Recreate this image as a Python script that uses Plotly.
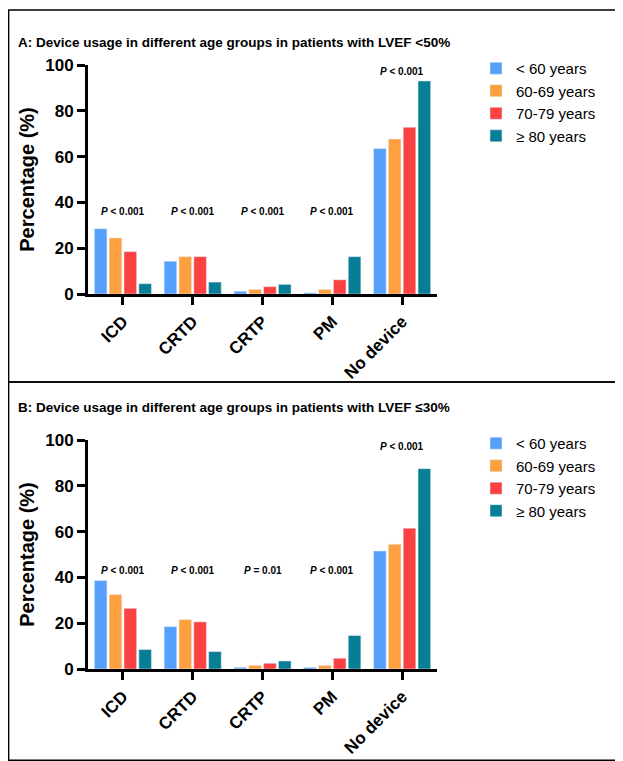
import plotly.graph_objects as go

devices = ["ICD", "CRTD", "CRTP", "PM", "No device"]
groups = ["< 60 years", "60-69 years", "70-79 years", "≥ 80 years"]
colors = ["#56A0FB", "#FFA040", "#FB4141", "#087D96"]

# panel A: LVEF <50%
vals_a = [
    [28.5, 14.3, 1.2, 0.5, 63.5],
    [24.5, 16.3, 2.0, 2.0, 67.7],
    [18.5, 16.3, 3.2, 6.2, 72.8],
    [4.5, 5.2, 4.2, 16.3, 93.0],
]
pvals_a = ["<i>P</i> < 0.001"] * 5

# panel B: LVEF <=30%
vals_b = [
    [38.6, 18.5, 0.7, 0.7, 51.5],
    [32.5, 21.6, 1.6, 1.6, 54.5],
    [26.5, 20.6, 2.5, 4.7, 61.5],
    [8.5, 7.6, 3.5, 14.6, 87.5],
]
pvals_b = ["<i>P</i> < 0.001", "<i>P</i> < 0.001", "<i>P</i> = 0.01", "<i>P</i> < 0.001", "<i>P</i> < 0.001"]
p_y_a = [36, 36, 36, 36, 97]
p_y_b = [43, 43, 43, 43, 97]

# the page puts the plot 8px in from the top-left corner
OFF = 8
W, H = 623 - OFF, 761 - OFF
def px(v):
    return (v - OFF) / W
def py(v):
    return 1 - (v - OFF) / H

fig = go.Figure()
for i, g in enumerate(groups):
    fig.add_trace(go.Bar(x=devices, y=vals_a[i], name=g, marker_color=colors[i],
                         xaxis="x", yaxis="y", legend="legend"))
    fig.add_trace(go.Bar(x=devices, y=vals_b[i], name=g, marker_color=colors[i],
                         xaxis="x2", yaxis="y2", legend="legend2"))

font = dict(family="Arial, Liberation Sans", color="black")
ax = dict(showline=True, linewidth=3, linecolor="black", ticks="outside", ticklen=8,
          tickwidth=3, tickcolor="black", showgrid=False, zeroline=False, automargin=False)
xax = dict(ax, tickangle=-45, tickvals=devices, ticktext=["<b>" + d + "</b>" for d in devices],
           tickfont=dict(size=17))
yax = dict(ax, range=[0, 100], dtick=20, tickprefix="<b>", ticksuffix="</b>",
           tickfont=dict(size=17),
           title=dict(text="<b>Percentage (%)</b>", font=dict(size=20), standoff=6))
xdom = [px(88), px(437)]
fig.update_layout(
    width=W, height=H, margin=dict(l=0, r=0, t=0, b=0),
    plot_bgcolor="white", paper_bgcolor="white", font=font,
    bargap=0.15, bargroupgap=0.15,
    xaxis=dict(xax, domain=xdom, anchor="y"),
    yaxis=dict(yax, domain=[py(294), py(65)], anchor="x"),
    xaxis2=dict(xax, domain=xdom, anchor="y2"),
    yaxis2=dict(yax, domain=[py(669), py(440)], anchor="x2"),
    legend=dict(x=px(476), y=py(52), xanchor="left", yanchor="top", font=dict(size=15),
                tracegroupgap=0, itemwidth=30),
    legend2=dict(x=px(476), y=py(427), xanchor="left", yanchor="top", font=dict(size=15),
                 tracegroupgap=0, itemwidth=30),
)

for d, t, yy in zip(devices, pvals_a, p_y_a):
    fig.add_annotation(x=d, y=yy, xref="x", yref="y", text="<b>" + t + "</b>",
                       showarrow=False, font=dict(size=10))
for d, t, yy in zip(devices, pvals_b, p_y_b):
    fig.add_annotation(x=d, y=yy, xref="x2", yref="y2", text="<b>" + t + "</b>",
                       showarrow=False, font=dict(size=10))

fig.add_annotation(x=px(16), y=py(33), xref="paper", yref="paper", xanchor="left",
                   text="<b>A: Device usage in different age groups in patients with LVEF <50%</b>",
                   showarrow=False, font=dict(size=13.5))
fig.add_annotation(x=px(16), y=py(407), xref="paper", yref="paper", xanchor="left",
                   text="<b>B: Device usage in different age groups in patients with LVEF ≤30%</b>",
                   showarrow=False, font=dict(size=13.5))

# panel borders
fig.add_shape(type="rect", xref="paper", yref="paper", x0=0.001, x1=px(621),
              y0=py(382), y1=py(10), line=dict(color="black", width=1.5))
fig.add_shape(type="rect", xref="paper", yref="paper", x0=0.001, x1=px(621),
              y0=0.001, y1=py(382), line=dict(color="black", width=1.5))

fig.write_html("out.html")
